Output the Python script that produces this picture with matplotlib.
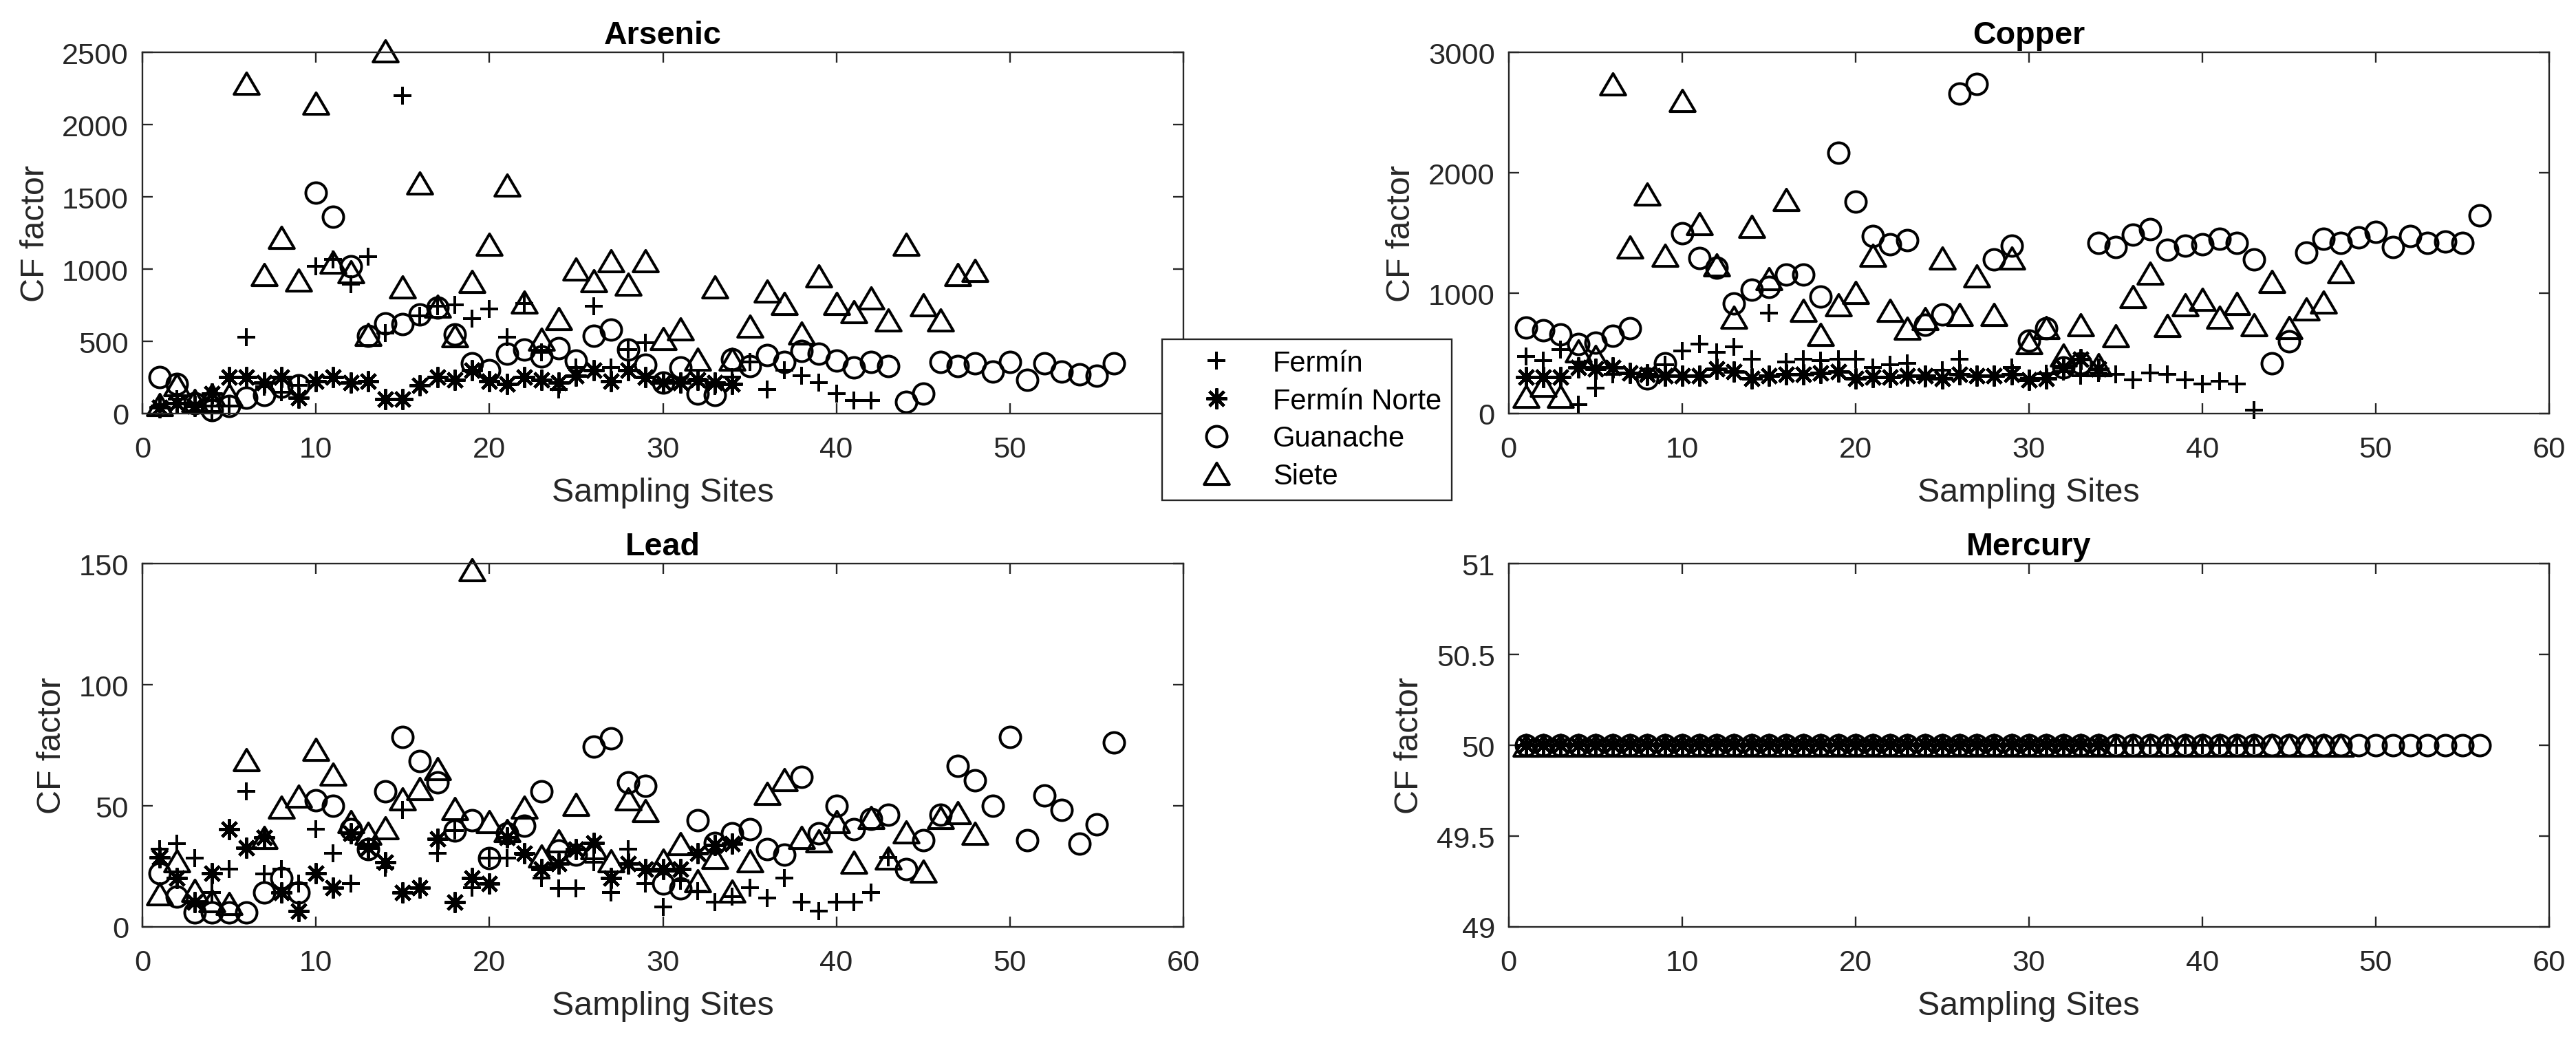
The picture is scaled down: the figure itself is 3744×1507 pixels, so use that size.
import numpy as np
import matplotlib
matplotlib.use("Agg")
import matplotlib.pyplot as plt
from matplotlib.path import Path

plt.rcParams['font.family'] = ['Liberation Sans', 'DejaVu Sans']

# CF factor per sampling site
as_fermin = [52, 100, 71, 13, 52, 531, 186, 148, 195, 1019, 1067, 895, 1086, 559, 2201, 674, 741, 751, 655, 722,
             531, 761, 425, 167, 320, 741, 320, 444, 492, 230, 220, 240, 190, 253, 358, 167, 301, 262, 215, 138,
             90, 90]
as_norte = [42, 71, 52, 138, 253, 253, 215, 253, 109, 224, 253, 215, 224, 100, 100, 195, 253, 234, 301, 224,
            205, 253, 234, 215, 262, 301, 224, 301, 253, 215, 215, 234, 215, 205]
as_guanache = [253, 205, 71, 23, 52, 109, 128, 186, 195, 1527, 1364, 1019, 540, 626, 617, 684, 732, 550, 349, 301,
               416, 444, 397, 454, 368, 540, 579, 444, 339, 215, 320, 138, 128, 377, 330, 406, 358, 435, 416, 368,
               320, 358, 330, 80, 138, 358, 330, 349, 291, 358, 234, 349, 291, 272, 262, 349]
as_siete = [61, 200, 90, 128, 128, 2284, 962, 1220, 923, 2150, 1048, 981, 550, 2510, 875, 1594, 741, 540, 914, 1172,
            1580, 770, 512, 655, 1000, 918, 1057, 895, 1057, 521, 588, 377, 876, 377, 607, 847, 761, 559, 952, 761,
            703, 799, 646, 1173, 751, 646, 962, 990]

cu_fermin = [476, 441, 533, 74, 211, 326, 330, 303, 407, 522, 579, 510, 556, 453, 832, 430, 453, 441, 453, 453,
             384, 407, 418, 292, 361, 453, 315, 315, 384, 292, 330, 350, 315, 338, 326, 280, 338, 326, 280, 246,
             269, 246, 28]
cu_norte = [303, 303, 303, 384, 372, 384, 338, 326, 315, 315, 315, 372, 349, 292, 315, 326, 326, 338, 349, 292,
            303, 303, 315, 315, 292, 326, 315, 315, 326, 280, 292, 384, 453, 372]
cu_guanache = [717, 694, 660, 579, 591, 648, 706, 292, 418, 1499, 1292, 1212, 913, 1028, 1051, 1154, 1154, 970, 2166, 1763,
               1476, 1407, 1441, 740, 821, 2660, 2740, 1280, 1395, 608, 706, 384, 420, 1418, 1384, 1487, 1533, 1361, 1395, 1407,
               1453, 1418, 1280, 418, 602, 1338, 1453, 1418, 1464, 1510, 1384, 1476, 1418, 1430, 1418, 1648]
cu_siete = [143, 234, 143, 522, 476, 2740, 1384, 1821, 1315, 2602, 1579, 1234, 798, 1556, 1120, 1775, 855, 660, 901, 1005,
            1315, 855, 706, 786, 1292, 821, 1143, 821, 1292, 591, 717, 487, 740, 407, 648, 970, 1166, 729, 901, 947,
            798, 913, 740, 1097, 717, 867, 924, 1177]

pb_fermin = [32.1, 34.3, 28.3, 14.1, 23.9, 56.0, 21.8, 23.9, 18.0, 40.3, 30.5, 18.0, 33.0, 24.5, 48.4, 16.3, 30.5, 39.7, 16.3, 28.3,
             28.3, 29.9, 20.1, 15.8, 15.8, 26.7, 14.1, 32.1, 18.0, 8.2, 19.0, 14.7, 10.3, 12.5, 16.3, 12.0, 20.1, 10.3, 6.5, 10.3,
             10.3, 14.1, 28.8]
pb_norte = [28.8, 20.1, 10.3, 22.3, 40.3, 32.6, 37.0, 14.1, 6.5, 22.3, 16.3, 38.6, 32.6, 26.7, 14.1, 16.3, 36.5, 10.3, 20.1, 18.0,
            37.0, 30.5, 23.9, 26.1, 32.1, 34.8, 20.1, 26.1, 23.9, 23.9, 23.9, 30.5, 33.7, 34.3]
pb_guanache = [22.3, 12.5, 6.0, 6.0, 6.0, 6.0, 14.1, 20.1, 14.1, 52.2, 50.1, 40.3, 32.1, 56.0, 78.3, 68.6, 59.8, 39.7, 44.1, 28.3,
               38.6, 41.9, 56.0, 31.6, 29.9, 74.5, 77.8, 59.8, 58.2, 18.0, 15.8, 44.1, 34.8, 38.6, 40.3, 32.1, 29.9, 62.0, 38.6, 50.1,
               40.3, 44.6, 46.2, 23.9, 35.9, 46.2, 66.4, 60.4, 50.1, 78.3, 35.9, 54.4, 48.4, 34.3, 42.4, 76.2]
pb_siete = [13.6, 27.2, 15.2, 10.9, 9.8, 69.1, 37.0, 49.5, 53.9, 73.4, 63.1, 43.5, 38.6, 40.8, 52.8, 57.1, 65.3, 49.0, 147.4, 43.5,
            39.7, 49.5, 29.4, 35.4, 50.6, 32.6, 27.2, 52.8, 47.9, 27.7, 34.3, 19.0, 28.8, 14.7, 27.2, 55.0, 60.9, 37.0, 35.4, 43.5,
            26.7, 45.2, 28.3, 39.2, 22.9, 45.2, 47.3, 38.6]

# mercury is flat at 50 for every site
hg_fermin = [50.0] * 43
hg_norte = [50.0] * 34
hg_guanache = [50.0] * 56
hg_siete = [50.0] * 48

labels = ['Fermín', 'Fermín Norte', 'Guanache', 'Siete']

# wide, slightly flat triangle like MATLAB's '^'
tri = Path([(-1, -0.85), (1, -0.85), (0, 0.85), (-1, -0.85)],
           [Path.MOVETO, Path.LINETO, Path.LINETO, Path.CLOSEPOLY])

styles = [
    dict(marker='+', ms=8, mew=1.2),
    dict(marker=(8, 2, 0), ms=9, mew=1.3),
    dict(marker='o', ms=9, mew=1.2, mfc='none'),
    dict(marker=tri, ms=11, mew=1.2, mfc='none'),
]

AX = '#262626'


def draw(ax, series, title, ylim, yticks, yticklabels=None):
    lines = []
    for vals, st in zip(series, styles):
        x = np.arange(1, len(vals) + 1)
        ln, = ax.plot(x, vals, ls='none', color='black', mec='black', clip_on=False, **st)
        lines.append(ln)
    ax.set_xlim(0, 60)
    ax.set_xticks(range(0, 61, 10))
    ax.set_ylim(*ylim)
    ax.set_yticks(yticks)
    if yticklabels is not None:
        ax.set_yticklabels(yticklabels)
    ax.set_title(title, fontsize=14, fontweight='bold', pad=3.8)
    ax.set_xlabel('Sampling Sites', fontsize=14.5, color=AX, labelpad=6)
    ax.set_ylabel('CF factor', fontsize=14.5, color=AX, labelpad=5)
    ax.tick_params(direction='in', top=True, right=True, length=4.5, width=0.7,
                   colors=AX, labelsize=13)
    ax.tick_params(axis='x', pad=9.5)
    ax.tick_params(axis='y', pad=6)
    for sp in ax.spines.values():
        sp.set_color(AX)
        sp.set_linewidth(0.7)
    return lines


fig = plt.figure(figsize=(15.6, 6.2833), dpi=240)
ax1 = fig.add_axes([0.0553, 0.6008, 0.4041, 0.3481])
ax2 = fig.add_axes([0.5857, 0.6008, 0.4038, 0.3481])
ax3 = fig.add_axes([0.0553, 0.1061, 0.4041, 0.3501])
ax4 = fig.add_axes([0.5857, 0.1061, 0.4038, 0.3501])

handles = draw(ax1, [as_fermin, as_norte, as_guanache, as_siete], 'Arsenic', (0, 2500), range(0, 2501, 500))
draw(ax2, [cu_fermin, cu_norte, cu_guanache, cu_siete], 'Copper', (0, 3000), range(0, 3001, 1000))
draw(ax3, [pb_fermin, pb_norte, pb_guanache, pb_siete], 'Lead', (0, 150), range(0, 151, 50))
draw(ax4, [hg_fermin, hg_norte, hg_guanache, hg_siete], 'Mercury', (49, 51),
     [49, 49.5, 50, 50.5, 51], ['49', '49.5', '50', '50.5', '51'])

leg = fig.legend(handles, labels, loc='upper left',
                 bbox_to_anchor=(1689 / 3744, 1 - 494 / 1508), bbox_transform=fig.transFigure,
                 frameon=True, fancybox=False, edgecolor=AX, framealpha=1, fontsize=12.5,
                 borderpad=0.36, handlelength=3.07, handletextpad=0.43, labelspacing=0.35,
                 borderaxespad=0)
leg.get_frame().set_linewidth(0.7)

fig.savefig('out.png', dpi=240, facecolor='white')
